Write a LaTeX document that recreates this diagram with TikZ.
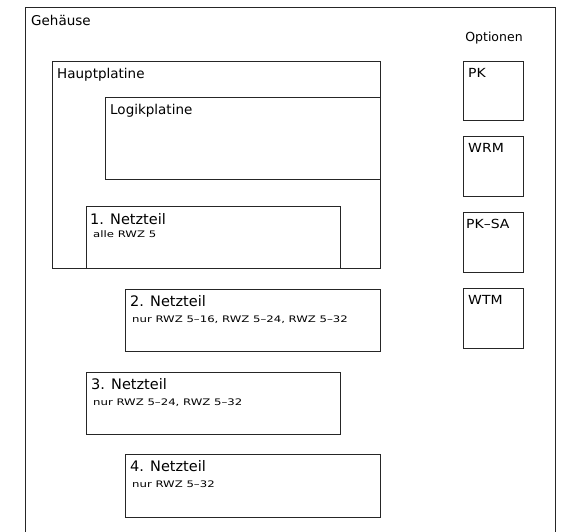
\documentclass[tikz,border=0pt]{standalone}
\usepackage{fontspec}
\setmainfont{DejaVu Sans}
\newfontfamily\cadwide[FakeStretch=1.3]{DejaVu Sans}
\newfontfamily\cadbox[FakeStretch=1.12]{DejaVu Sans}
\usepackage{tikz}
\usetikzlibrary{calc,positioning}

\begin{document}
\begin{tikzpicture}[x=1pt,y=-1pt]
  \tikzset{
    cadbox/.style={
      draw=black!85,
      line width=0.9pt,
      rectangle,
      inner sep=0pt,
      anchor=north west
    },
    cadtitle/.style={font=\fontsize{14.5}{17}\selectfont, inner sep=0pt, anchor=base west},
    cadnote/.style={font=\cadwide\fontsize{9}{11}\selectfont, inner sep=0pt, anchor=base west},
    cadhead/.style={font=\fontsize{13.5}{16}\selectfont, inner sep=0pt, anchor=base west},
    optlbl/.style={font=\cadbox\fontsize{12.5}{15}\selectfont, inner sep=0pt, anchor=base west}
  }
  \clip (0,0) rectangle (562,531);

  \node[cadbox,minimum width=530pt,minimum height=545pt] (haus) at (25,7) {};
  \node[cadhead] at ([xshift=6pt,yshift=-18pt]haus.north west) {Gehäuse};
  \node[font=\fontsize{12.5}{15}\selectfont,inner sep=0pt,anchor=base] (optionen) at (494,41) {Optionen};

  \node[cadbox,minimum width=328pt,minimum height=207pt] (haupt) at (52,61) {};
  \node[cadhead] at ([xshift=5pt,yshift=-17pt]haupt.north west) {Hauptplatine};
  \node[cadbox,minimum width=275pt,minimum height=82pt] (logik) at (105,97) {};
  \node[cadhead] at ([xshift=5pt,yshift=-17pt]logik.north west) {Logikplatine};

  \node[cadbox,minimum width=254pt,minimum height=62pt] (nt1) at (86,206) {};
  \node[cadtitle] at ([xshift=4pt,yshift=-18pt]nt1.north west) {1. Netzteil};
  \node[cadnote] at ([xshift=7pt,yshift=-31pt]nt1.north west) {alle RWZ 5};

  \node[cadbox,minimum width=255pt,minimum height=62pt] (nt2) at (125,289) {};
  \node[cadtitle] at ([xshift=5pt,yshift=-17pt]nt2.north west) {2. Netzteil};
  \node[cadnote] at ([xshift=7pt,yshift=-33pt]nt2.north west) {nur RWZ 5–16, RWZ 5–24, RWZ 5–32};

  \node[cadbox,minimum width=254pt,minimum height=62pt] (nt3) at (86,372) {};
  \node[cadtitle] at ([xshift=5pt,yshift=-17pt]nt3.north west) {3. Netzteil};
  \node[cadnote] at ([xshift=7pt,yshift=-33pt]nt3.north west) {nur RWZ 5–24, RWZ 5–32};

  \node[cadbox,minimum width=255pt,minimum height=63pt] (nt4) at (125,454) {};
  \node[cadtitle] at ([xshift=5pt,yshift=-17pt]nt4.north west) {4. Netzteil};
  \node[cadnote] at ([xshift=7pt,yshift=-33pt]nt4.north west) {nur RWZ 5–32};

  % Optionen
  \node[cadbox,minimum width=60pt,minimum height=59pt] (pk) at (463,61) {};
  \node[optlbl] at ([xshift=5pt,yshift=-16pt]pk.north west) {PK};
  \node[cadbox,minimum width=60pt,minimum height=60pt] (wrm) at (463,136) {};
  \node[optlbl] at ([xshift=5pt,yshift=-16pt]wrm.north west) {WRM};
  \node[cadbox,minimum width=60pt,minimum height=60pt] (pksa) at (463,212) {};
  \node[optlbl] at ([xshift=3pt,yshift=-16pt]pksa.north west) {PK–SA};
  \node[cadbox,minimum width=60pt,minimum height=60pt] (wtm) at (463,288) {};
  \node[optlbl] at ([xshift=5pt,yshift=-16pt]wtm.north west) {WTM};
\end{tikzpicture}
\end{document}
